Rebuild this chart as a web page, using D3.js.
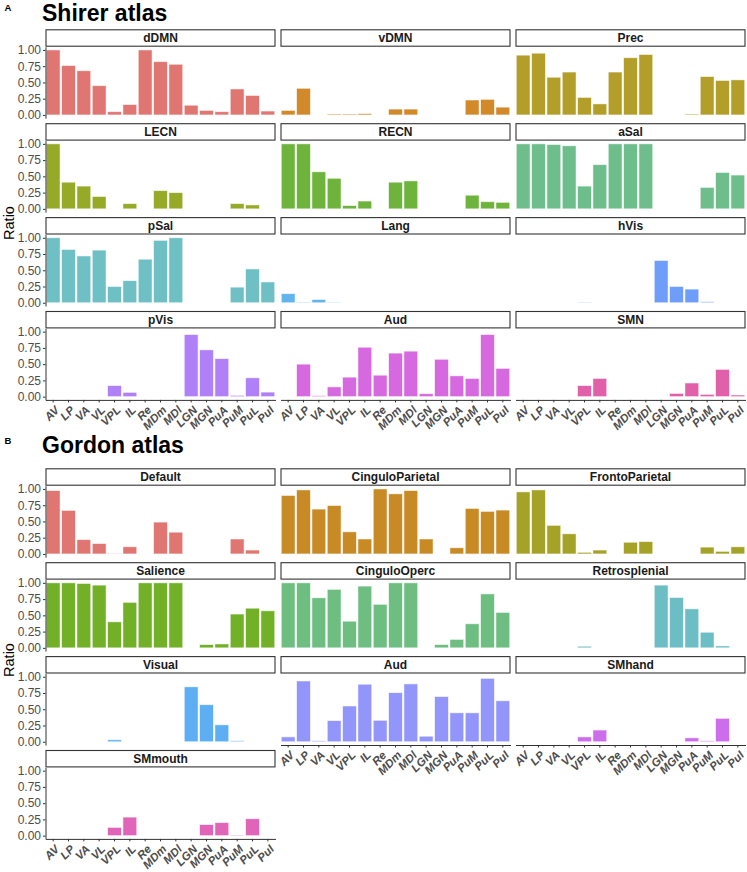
<!DOCTYPE html>
<html><head><meta charset="utf-8">
<script src="https://cdn.jsdelivr.net/npm/d3@7"></script>
<style>body{margin:0;background:#fff}svg{display:block}</style>
</head><body>
<svg id="chart" width="747" height="872"></svg>
<script>
// ---------- data ----------
const categories = ["AV","LP","VA","VL","VPL","IL","Re","MDm","MDl","LGN","MGN","PuA","PuM","PuL","PuI"];
const yTickValues = [0, 0.25, 0.5, 0.75, 1];
const yTickLabels = ["0.00","0.25","0.50","0.75","1.00"];

// Shirer atlas
const shirerNetworks = ["dDMN","vDMN","Prec","LECN","RECN","aSal","pSal","Lang","hVis","pVis","Aud","SMN"];
const shirerColors = ["#E07672","#D2892A","#B29E28","#96AA28","#6EB43C","#6EBE8C","#6EC0C4","#62B4EE","#6E9EFA","#B080F8","#D668E0","#E060AA"];
const s_dDMN = [1.00,0.76,0.68,0.45,0.05,0.16,1.00,0.82,0.78,0.15,0.07,0.05,0.40,0.30,0.06];
const s_vDMN = [0.07,0.41,0,0.015,0.015,0.02,0,0.09,0.09,0,0,0,0.23,0.24,0.12];
const s_Prec = [0.92,0.95,0.58,0.66,0.27,0.17,0.66,0.88,0.93,0,0,0.015,0.59,0.53,0.54];
const s_LECN = [1.00,0.41,0.35,0.19,0,0.08,0,0.28,0.25,0,0,0,0.08,0.06,0];
const s_RECN = [1.00,1.00,0.57,0.47,0.05,0.12,0,0.41,0.43,0,0,0,0.21,0.11,0.10];
const s_aSal = [1.00,1.00,0.99,0.97,0.35,0.68,1.00,1.00,1.00,0,0,0,0.33,0.56,0.52];
const s_pSal = [1.00,0.82,0.72,0.81,0.25,0.34,0.67,0.96,1.00,0,0,0,0.24,0.52,0.32];
const s_Lang = [0.14,0.01,0.05,0.008,0,0,0,0,0,0,0,0,0,0,0];
const s_hVis = [0,0,0,0,0.008,0,0,0,0,0.65,0.25,0.21,0.015,0,0];
const s_pVis = [0,0,0,0,0.17,0.066,0,0,0,0.955,0.72,0.585,0.02,0.29,0.07];
const s_Aud  = [0,0.50,0.015,0.15,0.30,0.76,0.33,0.67,0.70,0.045,0.575,0.32,0.28,0.955,0.435];
const s_SMN  = [0,0,0,0,0.17,0.28,0,0,0,0,0.05,0.21,0.035,0.42,0.025];
const shirerValues = [s_dDMN,s_vDMN,s_Prec,s_LECN,s_RECN,s_aSal,s_pSal,s_Lang,s_hVis,s_pVis,s_Aud,s_SMN];

// Gordon atlas
const gordonNetworks = ["Default","CinguloParietal","FrontoParietal","Salience","CinguloOperc","Retrosplenial","Visual","Aud","SMhand","SMmouth"];
const gordonColors = ["#E07672","#C88A24","#A5A228","#72B028","#6EBE82","#6CBEC4","#5EAEF4","#9296FA","#CC6EEC","#E064B8"];
const g_Default = [0.975,0.67,0.22,0.16,0.006,0.11,0,0.49,0.335,0,0,0,0.23,0.06,0];
const g_CinguloParietal = [0.90,0.985,0.69,0.745,0.34,0.23,1.00,0.925,0.975,0.23,0,0.095,0.70,0.655,0.675];
const g_FrontoParietal = [0.955,0.985,0.44,0.31,0.025,0.06,0,0.18,0.19,0,0,0,0.105,0.04,0.11];
const g_Salience = [1,1,0.99,0.965,0.40,0.70,1,1,1,0,0.05,0.06,0.52,0.61,0.57];
const g_CinguloOperc = [1,1,0.77,0.90,0.41,0.95,0.67,1,1,0,0.05,0.13,0.37,0.83,0.545];
const g_Retrosplenial = [0,0,0,0,0.025,0,0,0,0,0.965,0.775,0.60,0.24,0.03,0];
const g_Visual = [0,0,0,0,0.03,0,0,0,0,0.845,0.57,0.26,0.015,0,0];
const g_Aud = [0.075,0.935,0.015,0.325,0.55,0.885,0.33,0.755,0.89,0.085,0.695,0.445,0.445,0.975,0.63];
const g_SMhand = [0,0,0,0,0.075,0.18,0,0,0,0,0,0.06,0.015,0.36,0];
const g_SMmouth = [0,0,0,0,0.127,0.285,0,0,0,0,0.17,0.20,0.01,0.26,0];
const gordonValues = [g_Default,g_CinguloParietal,g_FrontoParietal,g_Salience,g_CinguloOperc,g_Retrosplenial,g_Visual,g_Aud,g_SMhand,g_SMmouth];

// ---------- layout ----------
const FONT = "'Liberation Sans', Arial, Helvetica, sans-serif";
const svg = d3.select("#chart");
const colX = [45.5, 280.5, 515.5];
const panelW = 230;
const stripH = 17.4;
const panelH = 71.5;
const rowPitch = 93.9;

function drawSection(cfg) {
  const g = svg.append("g");
  g.append("text").attr("x", 4.5).attr("y", cfg.tagY)
    .attr("font-family", FONT).attr("font-weight", "bold").attr("font-size", 9.5)
    .attr("fill", "#000").text(cfg.tag);
  g.append("text").attr("x", 42).attr("y", cfg.titleY)
    .attr("font-family", FONT).attr("font-weight", "bold").attr("font-size", 23)
    .attr("fill", "#000").text(cfg.title);
  g.append("text").attr("transform", `translate(14,${cfg.ratioY}) rotate(-90)`)
    .attr("text-anchor", "middle").attr("font-family", FONT).attr("font-size", 14.5)
    .attr("fill", "#000").text("Ratio");

  const n = cfg.networks.length;
  cfg.networks.forEach((name, k) => {
    const row = Math.floor(k / 3), col = k % 3;
    const T = cfg.top + row * rowPitch;
    const x0 = colX[col];
    const x = d3.scaleBand().domain(categories).range([x0, x0 + panelW])
      .paddingInner(0.1).paddingOuter(0.05);
    const pTop = T + stripH, pBot = pTop + panelH;
    const y = d3.scaleLinear().domain([-0.05, 1.05]).range([pBot, pTop]);
    const vals = cfg.values[k];
    const data = categories.map((c, i) => ({c, v: vals[i]})).filter(d => d.v > 0);

    g.append("g").selectAll("rect").data(data).join("rect")
      .attr("x", d => x(d.c)).attr("width", x.bandwidth())
      .attr("y", d => y(d.v)).attr("height", d => y(0) - y(d.v))
      .attr("fill", cfg.colors[k])
      .attr("stroke", "#fff").attr("stroke-opacity", 0.65).attr("stroke-width", 0.8);

    g.append("rect").attr("x", x0 + 0.5).attr("y", T + 0.5)
      .attr("width", panelW - 1).attr("height", stripH - 1)
      .attr("fill", "#fff").attr("stroke", "#333").attr("stroke-width", 1.1);
    g.append("text").attr("x", x0 + panelW / 2).attr("y", T + stripH / 2 + 4.3)
      .attr("text-anchor", "middle").attr("font-family", FONT).attr("font-weight", "bold")
      .attr("font-size", 12).attr("fill", "#1a1a1a").text(name);

    if (col === 0) {
      const ya = g.append("g").attr("transform", `translate(${x0},0)`)
        .call(d3.axisLeft(y).tickValues(yTickValues)
          .tickFormat((d, i) => yTickLabels[i]).tickSize(2.5).tickSizeOuter(0).tickPadding(2));
      ya.selectAll("path,line").attr("stroke", "#333").attr("stroke-width", 1);
      ya.selectAll("text").attr("font-family", FONT).attr("font-size", 12).attr("fill", "#4d4d4d");
    }
    if (k + 3 >= n) {
      const xa = g.append("g").attr("transform", `translate(0,${pBot})`)
        .call(d3.axisBottom(x).tickSize(2.5).tickSizeOuter(0));
      xa.selectAll("path,line").attr("stroke", "#333").attr("stroke-width", 1);
      xa.selectAll("text")
        .attr("y", 0).attr("dy", "0.72em")
        .attr("transform", "translate(1,5) rotate(-45)")
        .attr("text-anchor", "end")
        .attr("font-family", FONT).attr("font-weight", "bold").attr("font-style", "italic")
        .attr("font-size", 11.5).attr("fill", "#4d4d4d");
    }
  });
}

drawSection({tag: "A", tagY: 10.8, title: "Shirer atlas", titleY: 20.5, ratioY: 223, top: 29.3,
  networks: shirerNetworks, colors: shirerColors, values: shirerValues});
drawSection({tag: "B", tagY: 444.3, title: "Gordon atlas", titleY: 453.3, ratioY: 660, top: 468.3,
  networks: gordonNetworks, colors: gordonColors, values: gordonValues});
</script>
</body></html>
